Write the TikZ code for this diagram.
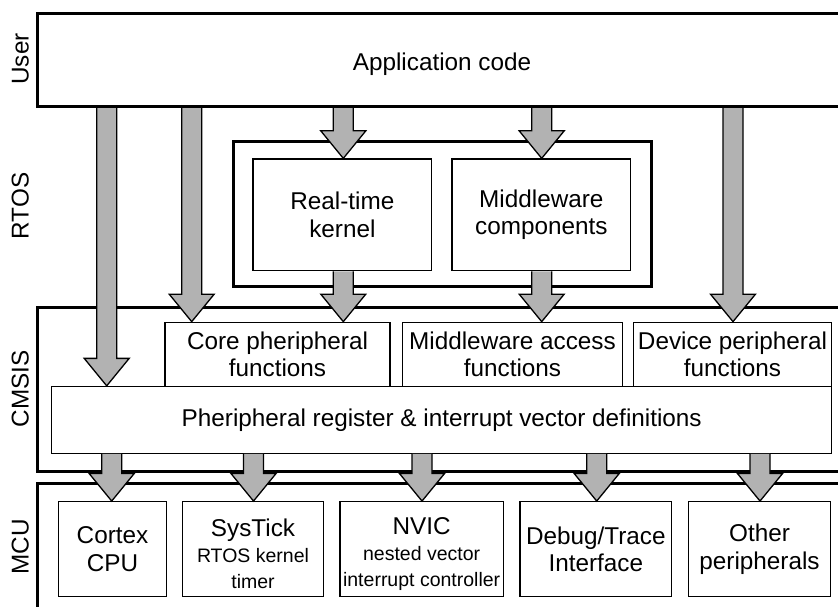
\documentclass[tikz,border=0pt]{standalone}
\usepackage{fontspec}
\setmainfont{Liberation Sans}
\usetikzlibrary{calc}
\definecolor{arrowgray}{RGB}{178,178,178}
\newcommand\bigtext{\fontsize{24.3}{27.5}\selectfont}
\newcommand\smalltext{\fontsize{19.5}{24}\selectfont}
% box from corner (x1,y1) to (x2,y2): style, name, x1, y1, x2, y2, text
\newcommand\boxnode[7]{%
  \node[#1, minimum width={(#5-#3)*1pt}, minimum height={(#6-#4)*1pt}]
    (#2) at ({(#3+#5)/2},{(#4+#6)/2}) {#7};}
% wide grey block arrow at x = #1 from the bottom of #2 to the top of #3
\newcommand\flowarrow[3]{%
  \path[flow] let \p1=(#2.south), \p2=(#3.north) in
    ({#1pt-10pt},\y1) -- ({#1pt-10pt},{\y2+27.5pt}) -- ({#1pt-22.5pt},{\y2+27.5pt})
    -- (#1pt,\y2) -- ({#1pt+22.5pt},{\y2+27.5pt}) -- ({#1pt+10pt},{\y2+27.5pt})
    -- ({#1pt+10pt},\y1);}
\begin{document}
\begin{tikzpicture}[x=1pt,y=-1pt,
  layer/.style={draw, line width=3pt, fill=white, inner sep=0pt},
  blk/.style={draw, line width=1.3pt, fill=white, align=center, inner sep=0pt, font=\bigtext},
  tag/.style={rotate=90, anchor=base, font=\bigtext, inner sep=0pt},
  caption/.style={font=\bigtext, inner sep=0pt},
  flow/.style={draw=black, line width=1.3pt, fill=arrowgray, line join=miter, miter limit=10},
]
\useasboundingbox (0,0) rectangle (838,607);
\clip (0,0) rectangle (838,607);

% layer labels
\node[tag] (luser) at (28.5,59) {User};
\node[tag] (lrtos) at (28.5,206) {RTOS};
\node[tag] (lcmsis) at (28.5,389) {CMSIS};
\node[tag] (lmcu) at (28.5,547) {MCU};

% user layer
\boxnode{layer}{app}{37}{14}{860}{106.7}{}
\node[caption] (apptext) at (442,64) {Application code};

% RTOS layer
\boxnode{layer}{rtos}{233}{141.7}{651.7}{286.7}{}
\boxnode{blk}{kernel}{253}{159}{431.7}{270.7}{Real-time\\kernel}
\boxnode{blk}{mwcomp}{452}{159}{630.7}{270.7}{Middleware\\components}

% CMSIS layer
\boxnode{layer}{cmsis}{37}{307.3}{860}{471.7}{}
\boxnode{blk}{core}{165}{322.3}{390}{386.5}{Core pheripheral\\functions}
\boxnode{blk}{mwacc}{402.7}{322.3}{622.3}{386.5}{Middleware access\\functions}
\boxnode{blk}{device}{633.3}{322.3}{831.7}{386.5}{Device peripheral\\functions}
\boxnode{blk}{reg}{51.7}{386.5}{831.7}{453.3}{Pheripheral register \& interrupt vector definitions}

% MCU layer
\boxnode{layer}{mcu}{37}{483.3}{860}{640}{}
\boxnode{blk}{cpu}{58.3}{501.7}{166.7}{596.7}{Cortex\\CPU}
\boxnode{blk}{systick}{182.7}{501.7}{323.3}{596.7}{\rule{0pt}{27pt}SysTick\\[-1.5pt]{\smalltext RTOS kernel}\\[-1.5pt]{\smalltext timer}}
\boxnode{blk}{nvic}{340}{501.7}{503.3}{596.7}{\rule{0pt}{27pt}NVIC\\[-1.5pt]{\smalltext nested vector}\\[-1.5pt]{\smalltext interrupt controller}}
\boxnode{blk}{debug}{520}{501.7}{671.7}{596.7}{Debug/Trace\\Interface}
\boxnode{blk}{other}{688.3}{501.7}{830.7}{596.7}{Other\\peripherals}

% data paths
\flowarrow{106.7}{app}{reg}
\flowarrow{191.7}{app}{core}
\flowarrow{343.3}{app}{kernel}
\flowarrow{541.7}{app}{mwcomp}
\flowarrow{733}{app}{device}
\flowarrow{343.3}{kernel}{core}
\flowarrow{541.7}{mwcomp}{mwacc}
\flowarrow{111.7}{reg}{cpu}
\flowarrow{253.5}{reg}{systick}
\flowarrow{422}{reg}{nvic}
\flowarrow{596.7}{reg}{debug}
\flowarrow{760}{reg}{other}
\end{tikzpicture}
\end{document}
